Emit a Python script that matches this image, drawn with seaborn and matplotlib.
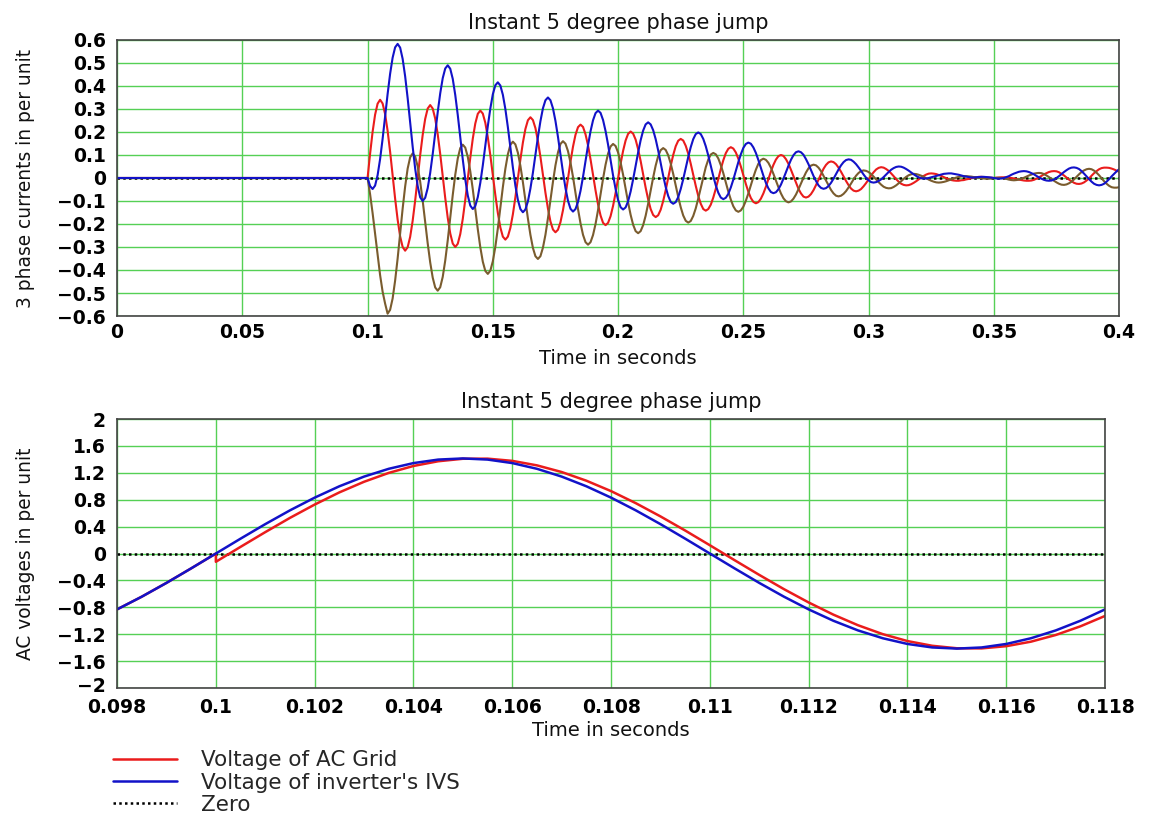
import numpy as np
import pandas as pd
import matplotlib
matplotlib.use("Agg")
import matplotlib.pyplot as plt
import matplotlib.transforms as mtransforms
import seaborn as sns
from matplotlib.lines import Line2D

# ---------------- DATA ----------------
# Top panel: three phase currents (per unit).
# Samples: t = 0 s, then 0.100 s ... 0.400 s every 1 ms
top_t0 = 0.0
top_start = 0.100
top_step = 0.001

current_red = [0.000,
 0.000, 0.105, 0.200, 0.275, 0.323, 0.340, 0.324, 0.278, 0.205, 0.114,
 0.012, -0.090, -0.181, -0.254, -0.300, -0.316, -0.301, -0.256, -0.186, -0.098,
 0.000, 0.099, 0.187, 0.257, 0.302, 0.317, 0.302, 0.258, 0.190, 0.104,
 0.008, -0.087, -0.173, -0.241, -0.285, -0.300, -0.286, -0.244, -0.178, -0.095,
 -0.003, 0.088, 0.171, 0.237, 0.279, 0.293, 0.280, 0.240, 0.177, 0.099,
 0.012, -0.074, -0.152, -0.215, -0.255, -0.268, -0.255, -0.217, -0.158, -0.084,
 -0.002, 0.080, 0.154, 0.213, 0.251, 0.264, 0.252, 0.217, 0.161, 0.092,
 0.014, -0.064, -0.133, -0.189, -0.224, -0.236, -0.225, -0.192, -0.140, -0.075,
 -0.002, 0.071, 0.136, 0.188, 0.221, 0.232, 0.222, 0.190, 0.142, 0.081,
 0.014, -0.054, -0.115, -0.163, -0.195, -0.205, -0.195, -0.166, -0.121, -0.065,
 -0.002, 0.062, 0.118, 0.163, 0.192, 0.202, 0.193, 0.167, 0.125, 0.074,
 0.016, -0.042, -0.093, -0.135, -0.161, -0.170, -0.162, -0.138, -0.100, -0.053,
 0.000, 0.053, 0.100, 0.138, 0.162, 0.170, 0.163, 0.140, 0.106, 0.062,
 0.014, -0.034, -0.078, -0.112, -0.135, -0.142, -0.135, -0.116, -0.085, -0.047,
 -0.004, 0.039, 0.077, 0.108, 0.127, 0.134, 0.128, 0.111, 0.084, 0.050,
 0.012, -0.026, -0.060, -0.087, -0.104, -0.110, -0.105, -0.090, -0.067, -0.038,
 -0.005, 0.028, 0.057, 0.080, 0.095, 0.100, 0.096, 0.082, 0.062, 0.036,
 0.008, -0.021, -0.047, -0.067, -0.081, -0.085, -0.081, -0.070, -0.053, -0.031,
 -0.007, 0.018, 0.040, 0.057, 0.068, 0.072, 0.069, 0.060, 0.045, 0.027,
 0.007, -0.013, -0.031, -0.046, -0.055, -0.058, -0.055, -0.048, -0.036, -0.022,
 -0.006, 0.011, 0.025, 0.037, 0.044, 0.047, 0.045, 0.039, 0.031, 0.020,
 0.008, -0.005, -0.016, -0.025, -0.030, -0.032, -0.031, -0.027, -0.021, -0.014,
 -0.006, 0.002, 0.009, 0.015, 0.019, 0.020, 0.019, 0.017, 0.013, 0.009,
 0.004, -0.001, -0.005, -0.009, -0.011, -0.012, -0.012, -0.010, -0.009, -0.006,
 -0.004, -0.001, 0.002, 0.003, 0.005, 0.005, 0.004, 0.003, 0.002, 0.001,
 0.000, 0.001, 0.002, 0.003, 0.003, 0.003, 0.002, 0.000, -0.002, -0.005,
 -0.007, -0.009, -0.011, -0.012, -0.012, -0.011, -0.008, -0.003, 0.003, 0.009,
 0.016, 0.021, 0.026, 0.029, 0.030, 0.029, 0.025, 0.018, 0.011, 0.002,
 -0.007, -0.014, -0.021, -0.025, -0.026, -0.024, -0.019, -0.011, -0.002, 0.010,
 0.021, 0.030, 0.038, 0.043, 0.045, 0.045, 0.044, 0.041, 0.037, 0.032,
 0.027]

current_blue = [0.000,
 0.000, -0.035, -0.048, -0.033, 0.012, 0.082, 0.170, 0.268, 0.365, 0.453,
 0.523, 0.568, 0.583, 0.567, 0.518, 0.442, 0.347, 0.242, 0.136, 0.041,
 -0.035, -0.084, -0.100, -0.086, -0.044, 0.022, 0.104, 0.195, 0.286, 0.368,
 0.434, 0.476, 0.490, 0.475, 0.431, 0.361, 0.274, 0.178, 0.081, -0.006,
 -0.076, -0.120, -0.135, -0.122, -0.083, -0.021, 0.055, 0.141, 0.226, 0.302,
 0.364, 0.403, 0.416, 0.402, 0.362, 0.300, 0.221, 0.134, 0.046, -0.033,
 -0.095, -0.135, -0.149, -0.137, -0.102, -0.046, 0.023, 0.101, 0.178, 0.247,
 0.303, 0.338, 0.350, 0.338, 0.303, 0.248, 0.179, 0.102, 0.025, -0.044,
 -0.099, -0.134, -0.146, -0.135, -0.104, -0.056, 0.005, 0.074, 0.142, 0.203,
 0.251, 0.282, 0.293, 0.283, 0.252, 0.204, 0.145, 0.078, 0.011, -0.048,
 -0.096, -0.127, -0.137, -0.128, -0.101, -0.059, -0.006, 0.053, 0.111, 0.164,
 0.206, 0.233, 0.242, 0.233, 0.208, 0.169, 0.120, 0.065, 0.010, -0.039,
 -0.078, -0.104, -0.112, -0.105, -0.083, -0.048, -0.005, 0.043, 0.091, 0.134,
 0.169, 0.191, 0.198, 0.191, 0.170, 0.138, 0.098, 0.053, 0.008, -0.032,
 -0.064, -0.085, -0.092, -0.086, -0.069, -0.041, -0.007, 0.031, 0.069, 0.103,
 0.131, 0.148, 0.154, 0.149, 0.133, 0.109, 0.078, 0.044, 0.010, -0.021,
 -0.045, -0.061, -0.066, -0.062, -0.049, -0.029, -0.003, 0.025, 0.053, 0.079,
 0.099, 0.112, 0.116, 0.112, 0.101, 0.082, 0.060, 0.035, 0.009, -0.013,
 -0.032, -0.043, -0.047, -0.044, -0.035, -0.021, -0.003, 0.017, 0.037, 0.055,
 0.069, 0.078, 0.081, 0.079, 0.071, 0.060, 0.046, 0.031, 0.015, 0.001,
 -0.010, -0.018, -0.020, -0.018, -0.013, -0.006, 0.004, 0.015, 0.026, 0.036,
 0.043, 0.048, 0.050, 0.049, 0.045, 0.039, 0.032, 0.024, 0.016, 0.009,
 0.003, -0.001, -0.002, -0.002, 0.000, 0.003, 0.006, 0.009, 0.012, 0.015,
 0.018, 0.019, 0.020, 0.020, 0.018, 0.016, 0.014, 0.011, 0.008, 0.006,
 0.004, 0.002, 0.002, 0.003, 0.004, 0.005, 0.005, 0.004, 0.003, 0.002,
 0.000, -0.002, -0.003, -0.002, 0.000, 0.004, 0.008, 0.014, 0.019, 0.023,
 0.027, 0.029, 0.030, 0.029, 0.026, 0.021, 0.016, 0.009, 0.003, -0.003,
 -0.008, -0.011, -0.012, -0.011, -0.007, 0.000, 0.008, 0.017, 0.026, 0.034,
 0.041, 0.045, 0.046, 0.044, 0.039, 0.030, 0.019, 0.007, -0.005, -0.016,
 -0.025, -0.030, -0.032, -0.030, -0.025, -0.016, -0.005, 0.007, 0.018, 0.029,
 0.038]

current_brown = [0.000,
 0.000, -0.070, -0.152, -0.242, -0.335, -0.422, -0.494, -0.546, -0.590, -0.573,
 -0.524, -0.446, -0.350, -0.242, -0.133, -0.037, 0.041, 0.090, 0.107, 0.093,
 0.050, -0.016, -0.099, -0.192, -0.284, -0.367, -0.433, -0.476, -0.490, -0.475,
 -0.430, -0.359, -0.271, -0.173, -0.074, 0.014, 0.085, 0.130, 0.145, 0.132,
 0.092, 0.029, -0.049, -0.136, -0.223, -0.301, -0.364, -0.404, -0.417, -0.403,
 -0.362, -0.299, -0.219, -0.130, -0.040, 0.040, 0.103, 0.144, 0.158, 0.146,
 0.110, 0.053, -0.018, -0.097, -0.176, -0.247, -0.304, -0.340, -0.352, -0.340,
 -0.303, -0.247, -0.175, -0.096, -0.017, 0.055, 0.111, 0.148, 0.160, 0.149,
 0.117, 0.067, 0.005, -0.065, -0.135, -0.197, -0.247, -0.279, -0.290, -0.279,
 -0.248, -0.200, -0.139, -0.071, -0.003, 0.058, 0.106, 0.137, 0.148, 0.139,
 0.111, 0.068, 0.014, -0.046, -0.106, -0.160, -0.203, -0.231, -0.240, -0.231,
 -0.205, -0.164, -0.112, -0.055, 0.002, 0.054, 0.095, 0.121, 0.130, 0.122,
 0.099, 0.063, 0.018, -0.032, -0.082, -0.127, -0.163, -0.186, -0.194, -0.187,
 -0.165, -0.132, -0.089, -0.043, 0.004, 0.047, 0.080, 0.102, 0.109, 0.103,
 0.085, 0.056, 0.021, -0.019, -0.059, -0.094, -0.123, -0.141, -0.147, -0.141,
 -0.125, -0.099, -0.067, -0.032, 0.004, 0.036, 0.062, 0.078, 0.084, 0.079,
 0.066, 0.045, 0.018, -0.011, -0.040, -0.067, -0.088, -0.101, -0.106, -0.102,
 -0.090, -0.072, -0.049, -0.024, 0.001, 0.024, 0.042, 0.054, 0.058, 0.055,
 0.045, 0.030, 0.010, -0.011, -0.032, -0.052, -0.067, -0.077, -0.080, -0.077,
 -0.069, -0.057, -0.041, -0.024, -0.006, 0.010, 0.022, 0.030, 0.033, 0.031,
 0.026, 0.017, 0.006, -0.006, -0.018, -0.029, -0.038, -0.043, -0.045, -0.044,
 -0.039, -0.032, -0.023, -0.014, -0.004, 0.005, 0.012, 0.016, 0.018, 0.017,
 0.014, 0.010, 0.005, -0.001, -0.007, -0.012, -0.016, -0.019, -0.020, -0.019,
 -0.017, -0.014, -0.010, -0.006, -0.002, 0.002, 0.005, 0.007, 0.008, 0.008,
 0.007, 0.006, 0.004, 0.003, 0.001, -0.001, -0.002, -0.003, -0.003, -0.002,
 0.000, 0.001, 0.001, 0.000, -0.002, -0.004, -0.007, -0.009, -0.010, -0.009,
 -0.007, -0.003, 0.001, 0.006, 0.011, 0.015, 0.019, 0.021, 0.022, 0.021,
 0.017, 0.011, 0.004, -0.004, -0.012, -0.019, -0.025, -0.029, -0.030, -0.028,
 -0.023, -0.016, -0.006, 0.005, 0.016, 0.026, 0.033, 0.038, 0.040, 0.038,
 0.032, 0.023, 0.012, -0.001, -0.014, -0.025, -0.034, -0.040, -0.042, -0.042,
 -0.040]

# Bottom panel: AC voltages (per unit), 0.098 s ... 0.118 s every 0.5 ms
bot_start = 0.098
bot_step = 0.0005
voltage_ivs = [-0.831, -0.642, -0.437, -0.221, 0.000, 0.221, 0.437, 0.642, 0.831, 1.000,
               1.144, 1.260, 1.345, 1.397, 1.414, 1.397, 1.345, 1.260, 1.144, 1.000,
               0.831, 0.642, 0.437, 0.221, 0.000, -0.221, -0.437, -0.642, -0.831, -1.000,
               -1.144, -1.260, -1.345, -1.397, -1.414, -1.397, -1.345, -1.260, -1.144, -1.000,
               -0.831]
# grid voltage: same as IVS until the jump at 0.100 s, then 5 degrees behind
voltage_grid_before = [-0.831, -0.642, -0.437, -0.221, 0.000]
voltage_grid_after = [-0.123, 0.099, 0.318, 0.530, 0.728, 0.909, 1.067, 1.199, 1.302, 1.372,
                      1.409, 1.411, 1.378, 1.311, 1.212, 1.083, 0.928, 0.749, 0.552, 0.342,
                      0.123, -0.099, -0.318, -0.530, -0.728, -0.909, -1.067, -1.199, -1.302, -1.372,
                      -1.409, -1.411, -1.378, -1.311, -1.212, -1.083, -0.928]

top_xticks = [0, 0.05, 0.1, 0.15, 0.2, 0.25, 0.3, 0.35, 0.4]
top_xlabels = ["0", "0.05", "0.1", "0.15", "0.2", "0.25", "0.3", "0.35", "0.4"]
top_yticks = [-0.6, -0.5, -0.4, -0.3, -0.2, -0.1, 0, 0.1, 0.2, 0.3, 0.4, 0.5, 0.6]
top_ylabels = ["\u22120.6", "\u22120.5", "\u22120.4", "\u22120.3", "\u22120.2", "\u22120.1", "0",
               "0.1", "0.2", "0.3", "0.4", "0.5", "0.6"]
bot_xticks = [0.098, 0.100, 0.102, 0.104, 0.106, 0.108, 0.110, 0.112, 0.114, 0.116, 0.118]
bot_xlabels = ["0.098", "0.1", "0.102", "0.104", "0.106", "0.108", "0.11", "0.112", "0.114", "0.116", "0.118"]
bot_yticks = [-2, -1.6, -1.2, -0.8, -0.4, 0, 0.4, 0.8, 1.2, 1.6, 2]
bot_ylabels = ["\u22122", "\u22121.6", "\u22121.2", "\u22120.8", "\u22120.4", "0", "0.4", "0.8", "1.2", "1.6", "2"]

# ---------------- CHECKS ----------------
lens = [len(current_red), len(current_blue), len(current_brown)]
if lens != [302, 302, 302] or len(voltage_ivs) != 41 or len(voltage_grid_after) != 37:
    raise ValueError(f"length mismatch {lens} {len(voltage_ivs)} {len(voltage_grid_after)}")

# ---------------- FRAMES ----------------
t_top = np.round(np.concatenate([[top_t0], top_start + top_step * np.arange(301)]), 4)
df_top = pd.DataFrame({
    "t": np.concatenate([t_top, t_top, t_top]),
    "i": np.concatenate([current_red, current_brown, current_blue]),
    "phase": ["a"] * 302 + ["c"] * 302 + ["b"] * 302,
})
t_bot = np.round(bot_start + bot_step * np.arange(41), 5)
t_grid = np.concatenate([t_bot[:5], t_bot[4:]])
df_bot = pd.DataFrame({
    "t": np.concatenate([t_grid, t_bot]),
    "v": np.concatenate([voltage_grid_before + voltage_grid_after, voltage_ivs]),
    "src": ["grid"] * len(t_grid) + ["ivs"] * len(t_bot),
})

# ---------------- STYLE ----------------
sns.set_theme(style="white")
plt.rcParams['font.family'] = ['DejaVu Sans']

RED = "#ea1c1c"
BLUE = "#1212c8"
BROWN = "#7a5c2e"
GRID = "#55d055"

fig = plt.figure(figsize=(11.51, 8.21), dpi=100)
ax1 = fig.add_axes([0.1017, 0.6151, 0.8706, 0.3362])
ax2 = fig.add_axes([0.1017, 0.1620, 0.8584, 0.3276])

for ax in (ax1, ax2):
    ax.set_axisbelow(True)
    ax.grid(True, color=GRID, lw=1.0)
    for s in ax.spines.values():
        s.set_color("#444444")
        s.set_linewidth(1.2)
    ax.axhline(0, color="black", lw=1.8, ls=(0, (1, 1.3)), zorder=1.5)

sns.lineplot(data=df_top, x="t", y="i", hue="phase", hue_order=["a", "c", "b"],
             palette={"a": RED, "b": BLUE, "c": BROWN}, estimator=None, sort=False,
             legend=False, lw=1.5, ax=ax1)
sns.lineplot(data=df_bot, x="t", y="v", hue="src", hue_order=["grid", "ivs"],
             palette={"grid": RED, "ivs": BLUE}, estimator=None, sort=False,
             legend=False, lw=1.8, ax=ax2)

ax1.set_xlim(0, 0.4)
ax1.set_ylim(-0.6, 0.6)
ax2.set_xlim(0.098, 0.118)
ax2.set_ylim(-2, 2)

ax1.set_xticks(top_xticks, top_xlabels)
ax1.set_yticks(top_yticks, top_ylabels)
ax2.set_xticks(bot_xticks, bot_xlabels)
ax2.set_yticks(bot_yticks, bot_ylabels)

for ax in (ax1, ax2):
    ax.tick_params(axis="both", length=0, labelsize=13.5, colors="black")
    ax.tick_params(axis="y", pad=8)
    for lbl in ax.get_xticklabels() + ax.get_yticklabels():
        lbl.set_fontweight("bold")
    ax.set_title("Instant 5 degree phase jump", fontsize=15, pad=8, color="#111111")
ax1.tick_params(axis="x", pad=5)
ax2.tick_params(axis="x", pad=7)
ax1.set_xlabel("Time in seconds", fontsize=14, labelpad=5, color="#111111")
ax2.set_xlabel("Time in seconds", fontsize=14, labelpad=3, color="#111111")

# lowest voltage label nudged up a little so it clears the 0.098 label
low = ax2.get_yticklabels()[0]
low.set_transform(low.get_transform() +
                  mtransforms.ScaledTranslation(0, 2.2 / 72, fig.dpi_scale_trans))

ax1.set_ylabel("3 phase currents in per unit", fontsize=13.4, color="#111111")
ax2.set_ylabel("AC voltages in per unit", fontsize=13.4, color="#111111")
ax1.yaxis.set_label_coords(-0.082, 0.5)
ax2.yaxis.set_label_coords(-0.083, 0.5)

handles = [Line2D([], [], color=RED, lw=1.8),
           Line2D([], [], color=BLUE, lw=1.8),
           Line2D([], [], color="black", lw=1.8, ls=(0, (1, 1.3)))]
fig.legend(handles, ["Voltage of AC Grid", "Voltage of inverter's IVS", "Zero"],
           loc="upper left", bbox_to_anchor=(0.098, 0.086), frameon=False,
           fontsize=15.5, handlelength=3.0, handletextpad=1.1, labelspacing=0.1,
           borderpad=0, borderaxespad=0)

fig.savefig("out.png", dpi=100)
